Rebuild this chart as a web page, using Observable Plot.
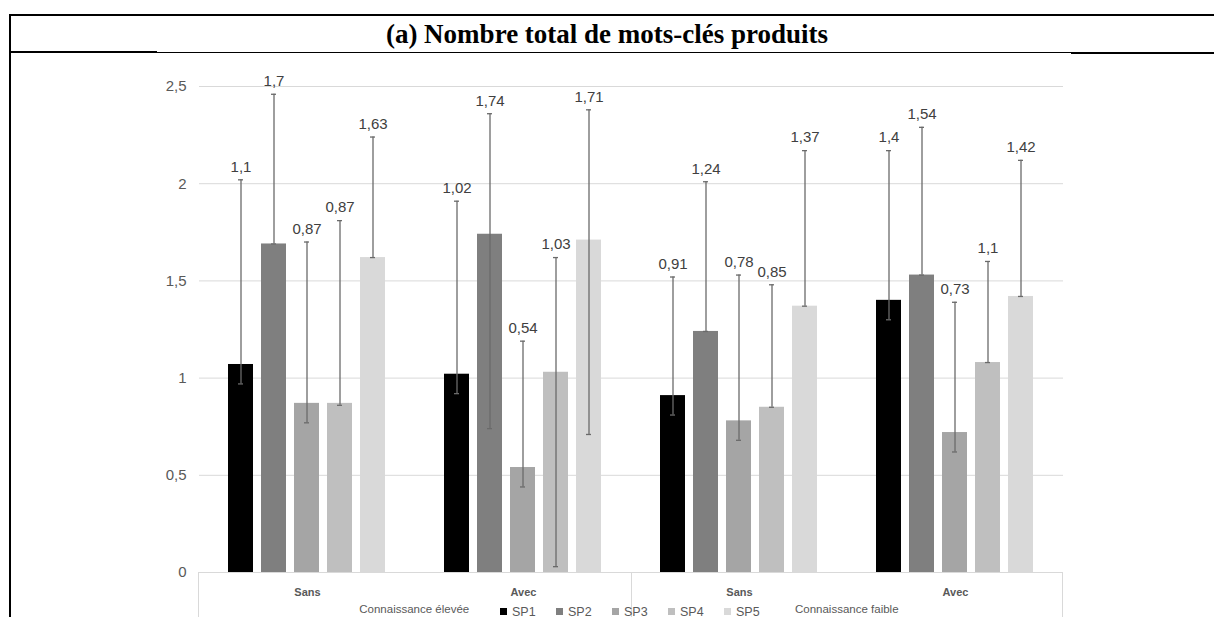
<!DOCTYPE html>
<html>
<head>
<meta charset="utf-8">
<script src="https://cdn.jsdelivr.net/npm/d3@7"></script>
<script src="https://cdn.jsdelivr.net/npm/@observablehq/plot@0.6"></script>
<style>
  html, body { margin: 0; padding: 0; background: #fff; }
  body { width: 1214px; height: 617px; overflow: hidden; position: relative; font-family: "Liberation Sans", Arial, sans-serif; }
  .abs { position: absolute; }
  #title { left: 0; width: 1214px; top: 18px; text-align: center; font-family: "Liberation Serif", "Times New Roman", serif; font-weight: bold; font-size: 27px; line-height: 32px; color: #000; }
  #chart { left: 0; top: 56px; }
  .legend-item { position: absolute; top: 0; font-size: 12.5px; color: #595959; line-height: 14px; white-space: nowrap; }
  .legend-item span.sw { display: inline-block; width: 7px; height: 7px; margin-right: 5px; vertical-align: 1px; }
  .group-label { position: absolute; font-size: 11.5px; line-height: 13px; color: #595959; white-space: nowrap; transform: translateX(-50%); }
</style>
</head>
<body>
<div class="abs" style="left:9px;top:14px;width:1205px;height:2px;background:#000"></div>
<div class="abs" style="left:9px;top:14px;width:2px;height:603px;background:#000"></div>
<div class="abs" style="left:9px;top:51px;width:148px;height:2px;background:#000"></div>
<div class="abs" style="left:157px;top:52px;width:914px;height:1px;background:#000"></div>
<div class="abs" style="left:1071px;top:52px;width:143px;height:2px;background:#000"></div>
<div id="title" class="abs"></div>
<div id="chart" class="abs"></div>
<div class="abs" style="left:198px;top:572px;width:865px;height:60px;border-top:1px solid #d9d9d9;border-left:1px solid #d9d9d9;border-right:1px solid #d9d9d9;box-sizing:border-box"></div>
<div class="abs" style="left:631px;top:572px;width:1px;height:60px;background:#d9d9d9"></div>
<div id="groups"></div>
<div id="legend" class="abs" style="left:500px;top:605px;height:14px;width:300px"></div>
<script>
// ---- data ----
const title = "(a) Nombre total de mots-clés produits";
const categories = ["Sans", "Avec", "Sans", "Avec"];
const knowledge = ["Connaissance élevée", "Connaissance élevée", "Connaissance faible", "Connaissance faible"];
const knowledgeGroups = ["Connaissance élevée", "Connaissance faible"];
const series = ["SP1", "SP2", "SP3", "SP4", "SP5"];

// bar heights per series, one value per category (Sans, Avec, Sans, Avec)
const SP1 = [1.07, 1.02, 0.91, 1.40];
const SP2 = [1.69, 1.74, 1.24, 1.53];
const SP3 = [0.87, 0.54, 0.78, 0.72];
const SP4 = [0.87, 1.03, 0.85, 1.08];
const SP5 = [1.62, 1.71, 1.37, 1.42];

// data labels as printed
const SP1_labels = ["1,1", "1,02", "0,91", "1,4"];
const SP2_labels = ["1,7", "1,74", "1,24", "1,54"];
const SP3_labels = ["0,87", "0,54", "0,78", "0,73"];
const SP4_labels = ["0,87", "1,03", "0,85", "1,1"];
const SP5_labels = ["1,63", "1,71", "1,37", "1,42"];

// error bar upper / lower ends
const SP1_hi = [2.02, 1.91, 1.52, 2.17];
const SP2_hi = [2.46, 2.36, 2.01, 2.29];
const SP3_hi = [1.70, 1.19, 1.53, 1.39];
const SP4_hi = [1.81, 1.62, 1.48, 1.60];
const SP5_hi = [2.24, 2.38, 2.17, 2.12];
const SP1_lo = [0.97, 0.92, 0.81, 1.30];
const SP2_lo = [1.69, 0.74, 1.24, 1.53];
const SP3_lo = [0.77, 0.44, 0.68, 0.62];
const SP4_lo = [0.86, 0.03, 0.85, 1.08];
const SP5_lo = [1.62, 0.71, 1.37, 1.42];

const yTicks = [0, 0.5, 1, 1.5, 2, 2.5];
const colors = ["#000000", "#7f7f7f", "#a5a5a5", "#bfbfbf", "#d9d9d9"];

// ---- build table ----
const values = {SP1, SP2, SP3, SP4, SP5};
const labels = {SP1: SP1_labels, SP2: SP2_labels, SP3: SP3_labels, SP4: SP4_labels, SP5: SP5_labels};
const his = {SP1: SP1_hi, SP2: SP2_hi, SP3: SP3_hi, SP4: SP4_hi, SP5: SP5_hi};
const los = {SP1: SP1_lo, SP2: SP2_lo, SP3: SP3_lo, SP4: SP4_lo, SP5: SP5_lo};
const keys = categories.map((c, i) => knowledge[i] + "|" + c + "|" + i);
const rows = [];
keys.forEach((k, i) => {
  series.forEach(s => {
    rows.push({key: k, series: s, value: values[s][i], label: labels[s][i], hi: his[s][i], lo: los[s][i]});
  });
});
const fmt = d => String(d).replace(".", ",");

document.getElementById("title").textContent = title;

const chart = Plot.plot({
  width: 1214,
  height: 575,
  marginLeft: 198,
  marginRight: 150,
  marginTop: 30,
  marginBottom: 59,
  style: {fontFamily: "Liberation Sans, Arial, sans-serif", fontSize: "15px", background: "transparent", overflow: "visible"},
  fx: {domain: keys, padding: 0},
  x: {domain: series, paddingInner: 0.23, paddingOuter: 0.865, axis: null},
  y: {domain: [0, 2.5]},
  color: {domain: series, range: colors},
  marks: [
    Plot.gridY(yTicks, {stroke: "#d9d9d9", strokeOpacity: 1, strokeWidth: 1}),
    Plot.axisY(yTicks, {tickSize: 0, tickPadding: 13, tickFormat: fmt, fill: "#595959", fontSize: 15, label: null}),
    Plot.barY(rows, {fx: "key", x: "series", y: "value", fill: "series"}),
    Plot.ruleX(rows, {fx: "key", x: "series", y1: "lo", y2: "hi", stroke: "#6a6a6a", strokeWidth: 1.3}),
    Plot.tickY(rows, {fx: "key", x: "series", y: "hi", insetLeft: 10, insetRight: 10, stroke: "#6a6a6a", strokeWidth: 1.3}),
    Plot.tickY(rows, {fx: "key", x: "series", y: "lo", insetLeft: 10, insetRight: 10, stroke: "#6a6a6a", strokeWidth: 1.3}),
    Plot.text(rows, {fx: "key", x: "series", y: "hi", text: "label", dy: -13, fill: "#404040", fontSize: 15}),
    Plot.axisFx({anchor: "bottom", tickSize: 0, tickPadding: 16, tickFormat: k => k.split("|")[1], fontWeight: "bold", fontSize: 11, fill: "#595959", label: null})
  ]
});
document.getElementById("chart").appendChild(chart);

// group labels
const gDiv = document.getElementById("groups");
const left = 198, right = 1063;
knowledgeGroups.forEach((g, i) => {
  const d = document.createElement("div");
  d.className = "group-label";
  d.textContent = g;
  const cx = left + (right - left) * (i * 2 + 1) / 4;
  d.style.left = cx + "px";
  d.style.top = "603px";
  gDiv.appendChild(d);
});

// legend
const lg = document.getElementById("legend");
series.forEach((s, i) => {
  const it = document.createElement("div");
  it.className = "legend-item";
  it.style.left = (i * 56) + "px";
  const sw = document.createElement("span");
  sw.className = "sw";
  sw.style.background = colors[i];
  it.appendChild(sw);
  it.appendChild(document.createTextNode(s));
  lg.appendChild(it);
});
</script>
</body>
</html>
